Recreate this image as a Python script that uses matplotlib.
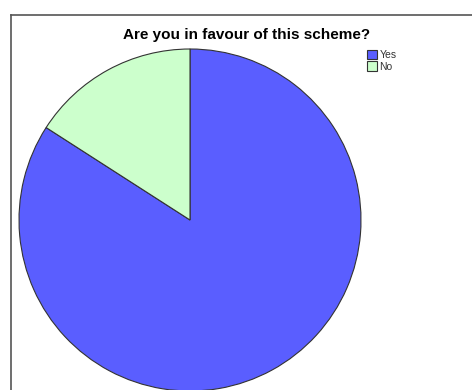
import matplotlib
matplotlib.use("Agg")
import matplotlib.pyplot as plt

# Responses to the survey question
labels = ["Yes", "No"]
counts = [37, 7]
colors = ["#5a5eff", "#ccffcc"]

W, H = 472, 390
fig = plt.figure(figsize=(W / 100, H / 100), dpi=100)
ax = fig.add_axes([0, 0, 1, 1])

wedges, _ = ax.pie(counts, colors=colors, startangle=90, counterclock=False,
                   center=(190, H - 220), radius=171,
                   wedgeprops=dict(edgecolor="#333333", linewidth=0.8))

ax.set_xlim(0, W)
ax.set_ylim(0, H)
ax.set_aspect("equal")
ax.axis("off")

# chart frame (right and bottom edges run off the canvas)
ax.plot([10.5, 10.5], [-5, H - 14.5], color="#555555", lw=1.2, clip_on=False)
ax.plot([10.5, W + 5], [H - 14.5, H - 14.5], color="#555555", lw=1.2, clip_on=False)

ax.text(247, H - 35, "Are you in favour of this scheme?", ha="center", va="center",
        fontsize=11, fontweight="bold", family="Liberation Sans")

leg = ax.legend(wedges, labels, loc="upper left", bbox_to_anchor=(367 / W, 1 - 50 / H),
                frameon=False, handlelength=1.0, handleheight=1.0,
                handletextpad=0.2, labelspacing=0.1, borderpad=0, borderaxespad=0,
                prop={"family": "Liberation Sans", "size": 7.5})
for t in leg.get_texts():
    t.set_color("#333333")

fig.savefig("out.png", dpi=100)
